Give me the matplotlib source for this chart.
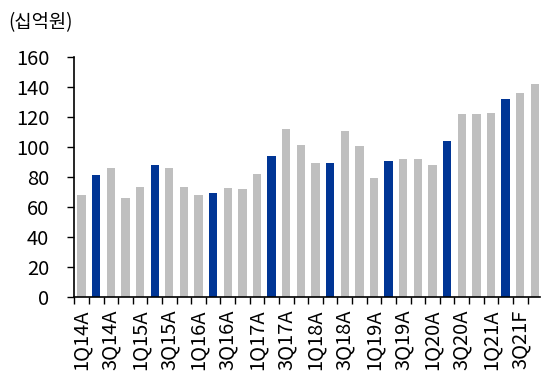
import numpy as np
import matplotlib
matplotlib.use("Agg")
import matplotlib.pyplot as plt
from matplotlib.ticker import FixedLocator

plt.rcParams['font.family'] = ['Noto Sans CJK KR', 'DejaVu Sans']

# quarters 1Q14 .. 4Q21 (A = actual, F = forecast)
quarters = ['1Q14A', '2Q14A', '3Q14A', '4Q14A',
            '1Q15A', '2Q15A', '3Q15A', '4Q15A',
            '1Q16A', '2Q16A', '3Q16A', '4Q16A',
            '1Q17A', '2Q17A', '3Q17A', '4Q17A',
            '1Q18A', '2Q18A', '3Q18A', '4Q18A',
            '1Q19A', '2Q19A', '3Q19A', '4Q19A',
            '1Q20A', '2Q20A', '3Q20A', '4Q20A',
            '1Q21A', '2Q21A', '3Q21F', '4Q21F']

# 십억원
values = [68, 81, 86, 65.5,
          73, 88, 85.5, 73,
          68, 69, 72.5, 72,
          82, 94, 112, 101,
          89, 89, 110.5, 100.5,
          79, 90.5, 91.5, 92,
          87.5, 104, 121.5, 121.5,
          122.5, 132, 135.5, 141.5]

# 2Q of every year is highlighted
highlight = ['2Q14A', '2Q15A', '2Q16A', '2Q17A',
             '2Q18A', '2Q19A', '2Q20A', '2Q21A']

gray = '#bfbfbf'
blue = '#003595'

fig = plt.figure(figsize=(5.41, 3.78), dpi=100)
ax = fig.add_axes([0.1373, 0.2151, 0.861, 0.635])

x = np.arange(len(quarters))
colors = [blue if q in highlight else gray for q in quarters]
ax.bar(x, values, width=0.57, color=colors, zorder=2)

ax.set_xlim(-0.5, 31.36)
ax.set_ylim(0, 160)
ax.set_yticks(np.arange(0, 161, 20))

# labels on every other bar, tick marks between bars
ax.set_xticks(x[::2])
ax.set_xticklabels(quarters[::2], rotation=90)
ax.xaxis.set_minor_locator(FixedLocator(np.arange(-0.5, 32, 1)))
ax.tick_params(axis='x', which='major', length=0, pad=9, labelsize=14.5)
ax.tick_params(axis='x', which='minor', length=5, width=1, color='black')
ax.tick_params(axis='y', length=5, width=1, labelsize=14.5, pad=13)

for s in ['top', 'right']:
    ax.spines[s].set_visible(False)
for s in ['left', 'bottom']:
    ax.spines[s].set_linewidth(1.2)

fig.text(0.015, 0.94, '(십억원)', fontsize=13.5, va='center', ha='left')

plt.savefig('out.png', dpi=100)
